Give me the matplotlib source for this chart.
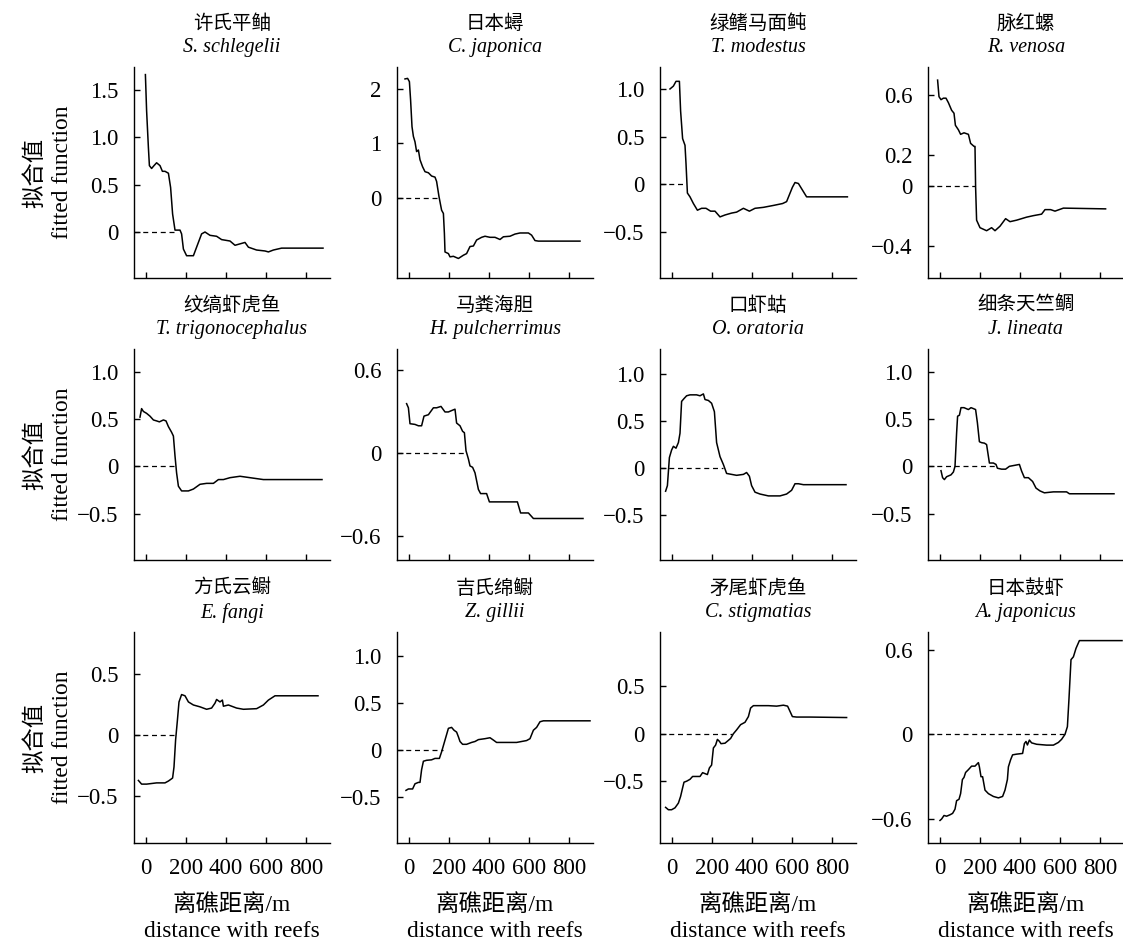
import matplotlib
matplotlib.use("Agg")
import matplotlib.pyplot as plt

plt.rcParams['font.family'] = ['Liberation Serif', 'Noto Sans CJK SC']
plt.rcParams['axes.unicode_minus'] = True

# species names
names_cn = ['许氏平鲉', '日本蟳', '绿鳍马面鲀', '脉红螺',
            '纹缟虾虎鱼', '马粪海胆', '口虾蛄', '细条天竺鲷',
            '方氏云鳚', '吉氏绵鳚', '矛尾虾虎鱼', '日本鼓虾']
names_latin = ['S. schlegelii', 'C. japonica', 'T. modestus', 'R. venosa',
               'T. trigonocephalus', 'H. pulcherrimus', 'O. oratoria', 'J. lineata',
               'E. fangi', 'Z. gillii', 'C. stigmatias', 'A. japonicus']

# fitted response curves (distance m, fitted value)
x_schlegelii = [-3, 3, 12, 17, 28, 40, 53, 70, 82, 95, 112, 123, 133, 145, 170, 178, 187, 203, 237, 253,
                278, 295, 320, 353, 378, 420, 445, 495, 512, 553, 595, 612, 637, 678, 885]
y_schlegelii = [1.66, 1.28, 0.89, 0.70, 0.67, 0.70, 0.73, 0.70, 0.64, 0.64, 0.62, 0.47, 0.19, 0.02, 0.02,
                -0.02, -0.18, -0.25, -0.25, -0.16, -0.02, 0.0, -0.035, -0.045, -0.08, -0.095, -0.14, -0.11,
                -0.16, -0.19, -0.20, -0.21, -0.19, -0.17, -0.17]

x_japonica = [-20, -7, 2, 8, 15, 22, 30, 38, 47, 55, 68, 80, 97, 113, 130, 138, 150, 163, 172, 177,
              180, 197, 205, 222, 247, 272, 288, 305, 322, 338, 363, 380, 405, 430, 455, 472, 505, 530,
              555, 597, 613, 630, 647, 855]
y_japonica = [2.19, 2.20, 2.14, 1.80, 1.31, 1.13, 1.03, 0.85, 0.88, 0.70, 0.57, 0.48, 0.46, 0.40, 0.38,
              0.30, 0.02, -0.23, -0.29, -0.66, -1.0, -1.03, -1.09, -1.08, -1.12, -1.06, -1.03, -0.90,
              -0.89, -0.78, -0.73, -0.71, -0.73, -0.73, -0.77, -0.72, -0.71, -0.67, -0.65, -0.65, -0.69,
              -0.79, -0.80, -0.80]

x_modestus = [-10, 7, 20, 37, 43, 53, 65, 70, 77, 90, 107, 127, 148, 170, 193, 215, 240, 265, 298, 323,
              357, 387, 415, 457, 507, 553, 573, 602, 615, 632, 673, 877]
y_modestus = [1.0, 1.03, 1.08, 1.08, 0.77, 0.48, 0.41, 0.22, -0.09, -0.13, -0.20, -0.27, -0.25, -0.25,
              -0.28, -0.28, -0.34, -0.32, -0.30, -0.29, -0.25, -0.28, -0.25, -0.24, -0.22, -0.20, -0.18,
              -0.03, 0.02, 0.01, -0.13, -0.13]

x_venosa = [-12, -5, 5, 17, 30, 42, 58, 70, 77, 92, 103, 120, 142, 153, 170, 175, 178, 183, 200, 233,
            258, 275, 300, 328, 350, 383, 433, 467, 508, 525, 553, 575, 617, 828]
y_venosa = [0.70, 0.59, 0.57, 0.58, 0.58, 0.55, 0.50, 0.48, 0.40, 0.37, 0.34, 0.35, 0.34, 0.28, 0.26,
            0.26, -0.01, -0.23, -0.28, -0.30, -0.28, -0.30, -0.27, -0.22, -0.24, -0.23, -0.21, -0.20,
            -0.19, -0.16, -0.16, -0.17, -0.15, -0.155]

x_trigono = [-30, -22, -13, 3, 20, 37, 53, 67, 87, 100, 112, 128, 137, 145, 153, 162, 178, 212, 237, 270,
             303, 337, 362, 387, 420, 470, 520, 587, 880]
y_trigono = [0.52, 0.61, 0.58, 0.56, 0.53, 0.49, 0.48, 0.47, 0.49, 0.48, 0.42, 0.36, 0.32, 0.11, -0.07,
             -0.21, -0.26, -0.26, -0.24, -0.19, -0.18, -0.18, -0.14, -0.14, -0.12, -0.105, -0.12, -0.14,
             -0.14]

x_pulcher = [-12, -3, 5, 30, 47, 63, 75, 97, 122, 138, 160, 180, 197, 213, 230, 238, 255, 268, 277, 285,
             297, 305, 318, 330, 347, 358, 388, 402, 438, 488, 542, 558, 597, 622, 870]
y_pulcher = [0.36, 0.33, 0.215, 0.21, 0.20, 0.20, 0.27, 0.28, 0.33, 0.33, 0.34, 0.30, 0.30, 0.31, 0.32,
             0.22, 0.20, 0.16, 0.15, 0.02, -0.04, -0.09, -0.10, -0.14, -0.26, -0.29, -0.29, -0.35, -0.35,
             -0.35, -0.35, -0.43, -0.43, -0.47, -0.47]

x_oratoria = [-32, -23, -13, -2, 7, 20, 32, 40, 48, 60, 73, 90, 123, 140, 157, 165, 182, 198, 212, 223,
              240, 257, 273, 298, 323, 357, 373, 387, 398, 415, 440, 482, 540, 573, 598, 615, 632, 657, 870]
y_oratoria = [-0.25, -0.19, 0.11, 0.19, 0.23, 0.21, 0.27, 0.37, 0.71, 0.74, 0.77, 0.78, 0.78, 0.77, 0.79,
              0.73, 0.72, 0.69, 0.60, 0.27, 0.12, 0.035, -0.06, -0.07, -0.08, -0.07, -0.05, -0.09, -0.19,
              -0.26, -0.28, -0.30, -0.30, -0.28, -0.24, -0.17, -0.17, -0.18, -0.18]

x_lineata = [5, 13, 22, 33, 55, 67, 75, 83, 88, 97, 105, 120, 142, 155, 167, 178, 187, 197, 208, 222,
             233, 247, 267, 280, 287, 308, 328, 347, 372, 397, 408, 422, 442, 463, 480, 500, 522, 567,
             608, 633, 647, 870]
y_lineata = [-0.046, -0.12, -0.14, -0.11, -0.09, -0.06, 0.0, 0.35, 0.53, 0.54, 0.62, 0.62, 0.60, 0.62,
             0.61, 0.60, 0.46, 0.26, 0.25, 0.245, 0.23, 0.035, 0.035, 0.02, -0.02, -0.03, -0.03, 0.0,
             0.01, 0.02, -0.05, -0.12, -0.12, -0.16, -0.23, -0.26, -0.28, -0.27, -0.27, -0.27, -0.29,
             -0.29]

x_fangi = [-38, -30, -22, 3, 53, 95, 112, 125, 133, 140, 148, 157, 165, 178, 195, 212, 237, 270, 303, 328,
           345, 353, 370, 382, 387, 412, 453, 487, 553, 587, 612, 645, 860]
y_fangi = [-0.37, -0.385, -0.40, -0.40, -0.39, -0.39, -0.375, -0.36, -0.35, -0.26, -0.04, 0.12, 0.27,
           0.33, 0.32, 0.27, 0.245, 0.23, 0.21, 0.22, 0.26, 0.29, 0.27, 0.285, 0.235, 0.245, 0.22, 0.21,
           0.215, 0.245, 0.285, 0.32, 0.32]

x_gillii = [-15, -3, 18, 30, 47, 55, 63, 72, 88, 113, 130, 152, 163, 180, 197, 213, 225, 238, 247, 255,
            268, 288, 313, 330, 347, 380, 405, 422, 438, 488, 538, 588, 605, 622, 638, 655, 672, 905]
y_gillii = [-0.43, -0.415, -0.415, -0.36, -0.345, -0.345, -0.21, -0.12, -0.11, -0.105, -0.09, -0.09,
            -0.02, 0.105, 0.23, 0.24, 0.21, 0.19, 0.14, 0.09, 0.06, 0.06, 0.08, 0.09, 0.11, 0.12, 0.13,
            0.105, 0.08, 0.08, 0.08, 0.10, 0.12, 0.21, 0.24, 0.30, 0.31, 0.31]

x_stigma = [-32, -18, -2, 15, 32, 43, 53, 60, 73, 90, 103, 127, 140, 153, 165, 177, 187, 198, 207, 218,
            227, 237, 245, 265, 282, 293, 307, 323, 343, 365, 382, 393, 407, 440, 482, 523, 557, 578,
            590, 602, 623, 690, 873]
y_stigma = [-0.775, -0.80, -0.80, -0.78, -0.73, -0.66, -0.57, -0.51, -0.50, -0.48, -0.45, -0.45, -0.45,
            -0.41, -0.42, -0.43, -0.36, -0.33, -0.15, -0.12, -0.06, -0.08, -0.105, -0.10, -0.07, -0.05,
            0.0, 0.04, 0.095, 0.12, 0.18, 0.27, 0.295, 0.295, 0.295, 0.29, 0.30, 0.29, 0.235, 0.18,
            0.175, 0.175, 0.17]

x_ajap = [0, 8, 20, 33, 50, 63, 75, 83, 95, 103, 112, 120, 128, 142, 158, 175, 192, 197, 205, 213, 225,
          242, 267, 292, 313, 325, 337, 342, 353, 363, 383, 413, 422, 430, 437, 447, 458, 483, 533, 567,
          592, 608, 625, 637, 645, 655, 667, 680, 697, 708, 910]
y_ajap = [-0.61, -0.60, -0.575, -0.58, -0.57, -0.56, -0.53, -0.47, -0.46, -0.42, -0.32, -0.305, -0.27,
          -0.25, -0.225, -0.225, -0.20, -0.23, -0.30, -0.30, -0.395, -0.42, -0.44, -0.45, -0.44, -0.395,
          -0.32, -0.23, -0.18, -0.145, -0.14, -0.135, -0.065, -0.05, -0.075, -0.04, -0.06, -0.07, -0.076,
          -0.076, -0.057, -0.035, 0.0, 0.055, 0.255, 0.53, 0.55, 0.61, 0.665, 0.665, 0.665]

curves_x = [x_schlegelii, x_japonica, x_modestus, x_venosa, x_trigono, x_pulcher,
            x_oratoria, x_lineata, x_fangi, x_gillii, x_stigma, x_ajap]
curves_y = [y_schlegelii, y_japonica, y_modestus, y_venosa, y_trigono, y_pulcher,
            y_oratoria, y_lineata, y_fangi, y_gillii, y_stigma, y_ajap]

# where the dashed zero reference line stops
zero_end = [153, 150, 68, 175, 153, 285, 257, 283, 153, 168, 298, 619]

yticks = [[0, 0.5, 1.0, 1.5], [0, 1, 2], [-0.5, 0, 0.5, 1.0], [-0.4, 0, 0.2, 0.6],
          [-0.5, 0, 0.5, 1.0], [-0.6, 0, 0.6], [-0.5, 0, 0.5, 1.0], [-0.5, 0, 0.5, 1.0],
          [-0.5, 0, 0.5], [-0.5, 0, 0.5, 1.0], [-0.5, 0, 0.5], [-0.6, 0, 0.6]]
xticks = [0, 200, 400, 600, 800]

# layout
ylims = [(-0.485, 1.74), (-1.48, 2.41), (-0.98, 1.23), (-0.614, 0.787),
         (-0.99, 1.24), (-0.77, 0.755), (-0.985, 1.27), (-0.99, 1.24),
         (-0.88, 0.84), (-0.99, 1.255), (-1.15, 1.07), (-0.77, 0.726)]
xlim = (-60, 920)
W, H = 1123, 941
col_left = [134, 397, 660, 928]
row_top = [67, 349, 632]
ax_w, ax_h = 196, 211


def fmt(v, whole):
    if v == 0:
        return '0'
    s = f'{v:.0f}' if whole else f'{v:.1f}'
    return s.replace('-', '\u2212')


fig = plt.figure(figsize=(W / 100, H / 100), dpi=100)

for i in range(12):
    r, c = divmod(i, 4)
    ax = fig.add_axes([col_left[c] / W, 1 - (row_top[r] + ax_h) / H, ax_w / W, ax_h / H])
    ax.plot(curves_x[i], curves_y[i], color='black', lw=1.1)
    ax.hlines(0, xlim[0], zero_end[i], colors='black', linestyles=(0, (4, 3)), lw=0.9)
    ax.set_xlim(*xlim)
    ax.set_ylim(*ylims[i])
    for s in ['top', 'right']:
        ax.spines[s].set_visible(False)
    for s in ['left', 'bottom']:
        ax.spines[s].set_linewidth(1.0)
    ax.tick_params(direction='in', length=4, width=1.0, pad=11, labelsize=16.5)
    ax.set_yticks(yticks[i])
    ax.set_yticklabels([fmt(v, i == 1) for v in yticks[i]])
    ax.set_xticks(xticks)
    if r == 2:
        ax.set_xticklabels([str(v) for v in xticks])
        ax.annotate('离礁距离/m', xy=(0.5, 0), xycoords='axes fraction', xytext=(0, -44.5),
                    textcoords='offset points', ha='center', va='center', fontsize=16.8)
        ax.annotate('distance with reefs', xy=(0.5, 0), xycoords='axes fraction', xytext=(0, -64),
                    textcoords='offset points', ha='center', va='center', fontsize=16.8)
    else:
        ax.set_xticklabels([])
    if c == 0:
        ax.annotate('拟合值', xy=(0, 0.5), xycoords='axes fraction', xytext=(-71, 0),
                    textcoords='offset points', ha='center', va='center', rotation=90, fontsize=16.8)
        ax.annotate('fitted function', xy=(0, 0.5), xycoords='axes fraction', xytext=(-51.5, 0),
                    textcoords='offset points', ha='center', va='center', rotation=90, fontsize=16.8)
    ax.annotate(names_cn[i], xy=(0.5, 1), xycoords='axes fraction', xytext=(0, 31),
                textcoords='offset points', ha='center', va='center', fontsize=14)
    ax.annotate(names_latin[i], xy=(0.5, 1), xycoords='axes fraction', xytext=(0, 14),
                textcoords='offset points', ha='center', va='center', fontsize=14.5,
                fontstyle='italic')

fig.savefig('out.png', dpi=100)
